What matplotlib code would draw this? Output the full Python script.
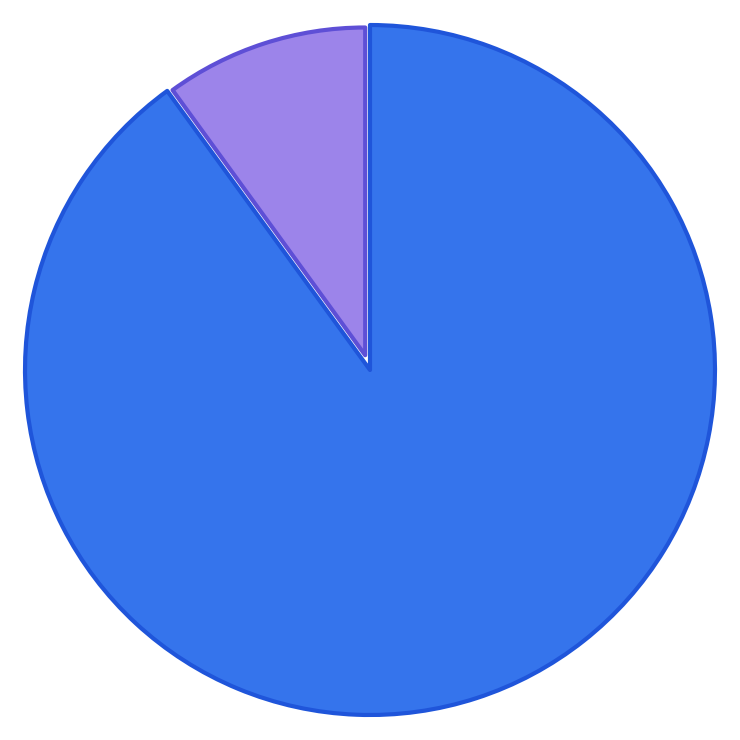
import matplotlib
matplotlib.use("Agg")
import matplotlib.pyplot as plt

labels = ["Small share", "Large share"]
values = [10, 90]
colors = ["#9C84EA", "#3574EC"]
edge_colors = ["#5E4FD6", "#1F55DA"]
explode = [0.045, 0.0]

fig = plt.figure(figsize=(7.4, 7.4), dpi=100)
ax = fig.add_axes([0, 0, 1, 1])
wedges, _ = ax.pie(values, colors=colors, explode=explode, startangle=90,
                   counterclock=True, radius=1.0,
                   wedgeprops=dict(linewidth=3, joinstyle="round"))
for w, ec in zip(wedges, edge_colors):
    w.set_edgecolor(ec)
wedges[0].set_radius(0.95)
ax.set_xlim(-1.0725, 1.0725)
ax.set_ylim(-1.0725, 1.0725)
ax.set_aspect("equal")
ax.axis("off")
fig.savefig("out.png", dpi=100, facecolor="white")
